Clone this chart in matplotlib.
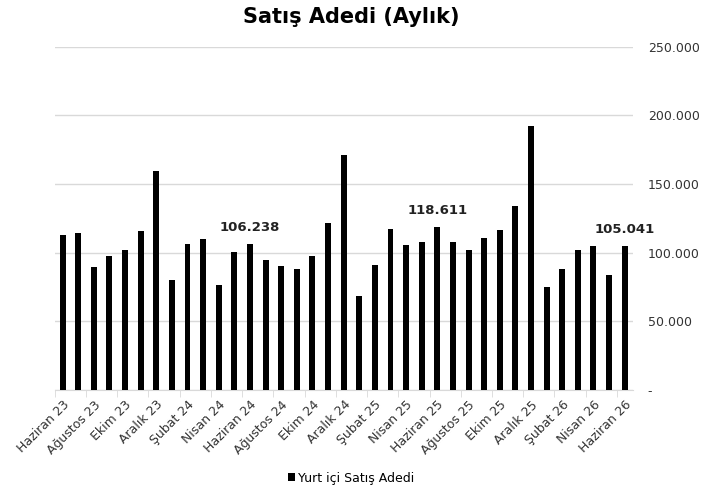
import numpy as np
import matplotlib.pyplot as plt
from matplotlib.ticker import FuncFormatter

# months from Haziran 23 to Haziran 26
months = ['Haziran 23', 'Temmuz 23', 'Ağustos 23', 'Eylül 23', 'Ekim 23', 'Kasım 23',
          'Aralık 23', 'Ocak 24', 'Şubat 24', 'Mart 24', 'Nisan 24', 'Mayıs 24',
          'Haziran 24', 'Temmuz 24', 'Ağustos 24', 'Eylül 24', 'Ekim 24', 'Kasım 24',
          'Aralık 24', 'Ocak 25', 'Şubat 25', 'Mart 25', 'Nisan 25', 'Mayıs 25',
          'Haziran 25', 'Temmuz 25', 'Ağustos 25', 'Eylül 25', 'Ekim 25', 'Kasım 25',
          'Aralık 25', 'Ocak 26', 'Şubat 26', 'Mart 26', 'Nisan 26', 'Mayıs 26',
          'Haziran 26']

sales = [112700, 114400, 89800, 97300, 102000, 115400, 159500, 80000, 106100, 110200,
         76100, 100500, 106238, 94400, 90200, 87800, 97800, 121500, 171000, 68500,
         91200, 117300, 105600, 108000, 118611, 108000, 102000, 110700, 116300, 133700,
         192400, 75100, 88300, 102200, 104900, 83700, 105041]

labelled = {12: '106.238', 24: '118.611', 36: '105.041'}
yticks = [0, 50000, 100000, 150000, 200000, 250000]

fig = plt.figure(figsize=(7.02, 4.96), dpi=100)
ax = fig.add_axes([0.078, 0.214, 0.823, 0.692])

x = np.arange(len(months))
ax.bar(x, sales, width=0.38, color='black', zorder=3, label='Yurt içi Satış Adedi')

for i, txt in labelled.items():
    ax.annotate(txt, (x[i], sales[i]), xytext=(0, 7), textcoords='offset points',
                ha='center', va='bottom', fontsize=9.5, fontweight='bold',
                family='DejaVu Sans', color='#222222')

ax.set_xlim(-0.5, len(months) - 0.5)
ax.set_ylim(0, 250000)
ax.set_yticks(yticks)
ax.yaxis.set_major_formatter(FuncFormatter(
    lambda v, p: '-' if v == 0 else f'{int(v):,}'.replace(',', '.')))
ax.yaxis.tick_right()
ax.tick_params(axis='y', length=0, pad=11, labelsize=9, labelcolor='#333333')
for lab in ax.get_yticklabels():
    lab.set_horizontalalignment('left')
ax.grid(axis='y', color='#d9d9d9', linewidth=1, zorder=0)

# category labels every second month, ticks between categories
ax.set_xticks(x[::2])
ax.set_xticklabels(months[::2], rotation=45, ha='right', rotation_mode='anchor',
                   fontsize=9, color='#333333')
ax.tick_params(axis='x', length=0, pad=6)
ax.set_xticks(np.arange(-0.5, len(months), 2), minor=True)
ax.tick_params(axis='x', which='minor', length=5, color='#d9d9d9')

for s in ['top', 'left', 'right']:
    ax.spines[s].set_visible(False)
ax.spines['bottom'].set_color('#d9d9d9')

fig.suptitle('Satış Adedi (Aylık)', x=0.5, y=0.985, fontsize=15, fontweight='bold')
fig.legend(loc='lower center', bbox_to_anchor=(0.5, 0.0), frameon=False, fontsize=9,
           handlelength=0.6, handleheight=0.6, handletextpad=0.2)

fig.savefig('out.png', dpi=100)
